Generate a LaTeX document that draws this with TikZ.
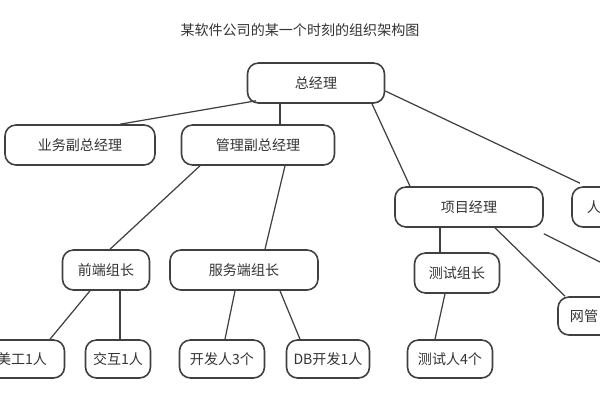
\documentclass[tikz,border=0pt]{standalone}
\usepackage{fontspec}
\newfontfamily\cjk{Noto Sans CJK SC}
\begin{document}
\begin{tikzpicture}[x=0.02cm,y=-0.02cm,
  box/.style={draw=black!75,line width=0.9pt,rounded corners=0.22cm,inner sep=0pt,font=\cjk\fontsize{8}{9}\selectfont,text=black!80},
  ln/.style={draw=black!75,line width=0.7pt}]
\useasboundingbox (0,0) rectangle (600,400);
\clip (0,0) rectangle (600,400);
\node[font=\cjk\fontsize{8}{9}\selectfont,text=black!80] (t) at (300,30) {某软件公司的某一个时刻的组织架构图};
\node[box,minimum width=137*0.02cm,minimum height=40*0.02cm] (gm) at (316,83) {总经理};
\node[box,minimum width=150*0.02cm,minimum height=40*0.02cm] (yw) at (80,145) {业务副总经理};
\node[box,minimum width=153*0.02cm,minimum height=40*0.02cm] (gl) at (258,145) {管理副总经理};
\node[box,minimum width=148*0.02cm,minimum height=40*0.02cm] (xm) at (469,207) {项目经理};
\node[box,minimum width=130*0.02cm,minimum height=40*0.02cm,text width=100*0.02cm,align=left] (rs) at (637,207) {人事经理};
\node[box,minimum width=87*0.02cm,minimum height=40*0.02cm] (qd) at (106,270) {前端组长};
\node[box,minimum width=148*0.02cm,minimum height=40*0.02cm] (fw) at (244,270) {服务端组长};
\node[box,minimum width=85*0.02cm,minimum height=40*0.02cm] (cs) at (457,273) {测试组长};
\node[box,minimum width=90*0.02cm,minimum height=38*0.02cm,text width=66*0.02cm,align=left] (wg) at (603,316) {网管};
\node[box,minimum width=85*0.02cm,minimum height=38*0.02cm] (mg) at (22,359) {美工1人};
\node[box,minimum width=65*0.02cm,minimum height=38*0.02cm] (jh) at (118,359) {交互1人};
\node[box,minimum width=85*0.02cm,minimum height=38*0.02cm] (kf) at (222,359) {开发人3个};
\node[box,minimum width=83*0.02cm,minimum height=38*0.02cm] (db) at (328,359) {DB开发1人};
\node[box,minimum width=85*0.02cm,minimum height=38*0.02cm] (cr) at (450,359) {测试人4个};
\coordinate (off) at (620,272);
\draw[ln] ([xshift=-60*0.02cm,yshift=3*0.02cm]gm.south) -- ([xshift=40*0.02cm]yw.north);
\draw[ln] ([xshift=-36*0.02cm]gm.south) -- ([xshift=22*0.02cm]gl.north);
\draw[ln] ([xshift=56*0.02cm]gm.south) -- ([xshift=-59*0.02cm]xm.north);
\draw[ln] ([yshift=-8*0.02cm]gm.east) -- ([xshift=-57*0.02cm,yshift=3*0.02cm]rs.north);
\draw[ln] ([xshift=-58*0.02cm]gl.south) -- ([xshift=4*0.02cm]qd.north);
\draw[ln] ([xshift=27*0.02cm]gl.south) -- ([xshift=21*0.02cm]fw.north);
\draw[ln] ([xshift=-16*0.02cm]qd.south) -- ([xshift=28*0.02cm]mg.north);
\draw[ln] ([xshift=14*0.02cm]qd.south) -- ([xshift=2*0.02cm]jh.north);
\draw[ln] ([xshift=-9*0.02cm]fw.south) -- ([xshift=3*0.02cm]kf.north);
\draw[ln] ([xshift=36*0.02cm]fw.south) -- ([xshift=-28*0.02cm]db.north);
\draw[ln] ([xshift=-29*0.02cm]xm.south) -- ([xshift=-17*0.02cm]cs.north);
\draw[ln] ([xshift=26*0.02cm]xm.south) -- ([xshift=-38*0.02cm]wg.north);
\draw[ln] ([yshift=-6*0.02cm]xm.south east) -- (off);
\draw[ln] ([xshift=-12*0.02cm]cs.south) -- ([xshift=-15*0.02cm]cr.north);
\end{tikzpicture}
\end{document}
